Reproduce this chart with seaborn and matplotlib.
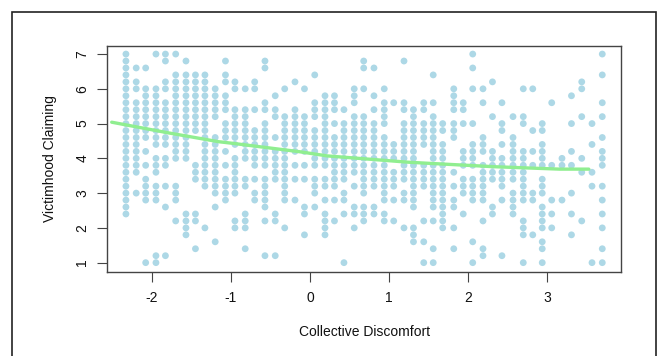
import numpy as np
import pandas as pd
import matplotlib
matplotlib.use("Agg")
import matplotlib.pyplot as plt
import matplotlib.patches as patches
import seaborn as sns

# x position of each column of dots (Collective Discomfort)
col_x = [-2.33, -2.20, -2.08, -1.95, -1.83, -1.70, -1.57, -1.45, -1.33, -1.20,
         -1.07, -0.95, -0.82, -0.70, -0.57, -0.44, -0.32, -0.19, -0.07, 0.06,
         0.19, 0.31, 0.43, 0.56, 0.68, 0.81, 0.94, 1.06, 1.19, 1.31,
         1.44, 1.56, 1.68, 1.82, 1.94, 2.06, 2.19, 2.31, 2.43, 2.57,
         2.70, 2.82, 2.94, 3.06, 3.19, 3.31, 3.44, 3.57, 3.70]

# Victimhood Claiming values found in each column
col_y = [
    [7.0, 6.8, 6.6, 6.4, 6.2, 6.0, 5.8, 5.6, 5.4, 5.2, 5.0, 4.8, 4.6, 4.4, 4.2, 4.0, 3.8, 3.6, 3.4, 3.2, 3.0, 2.8, 2.6, 2.4],
    [6.6, 6.2, 6.0, 5.6, 5.4, 5.2, 5.0, 4.8, 4.6, 4.4, 4.2, 4.0, 3.8, 3.6, 3.0],
    [6.6, 6.0, 5.8, 5.6, 5.4, 5.2, 5.0, 4.8, 4.6, 4.2, 3.8, 3.4, 3.2, 3.0, 2.8, 1.0],
    [7.0, 6.0, 5.8, 5.6, 5.4, 5.2, 5.0, 4.8, 4.6, 4.4, 4.0, 3.8, 3.6, 3.2, 3.0, 2.8, 1.2, 1.0],
    [7.0, 6.8, 6.2, 6.0, 5.6, 5.4, 5.2, 5.0, 4.8, 4.6, 4.4, 4.0, 3.8, 3.2, 2.6, 1.2],
    [7.0, 6.4, 6.2, 6.0, 5.8, 5.6, 5.4, 5.2, 5.0, 4.8, 4.6, 4.4, 4.2, 4.0, 3.2, 3.0, 2.8, 2.2],
    [6.8, 6.4, 6.2, 6.0, 5.8, 5.6, 5.4, 5.2, 5.0, 4.8, 4.6, 4.4, 4.2, 4.0, 2.4, 2.2, 2.0, 1.8],
    [6.4, 6.2, 6.0, 5.8, 5.6, 5.4, 5.2, 5.0, 4.8, 3.8, 3.6, 3.4, 2.4, 2.2, 1.4],
    [6.4, 6.2, 6.0, 5.8, 5.6, 5.4, 5.2, 5.0, 4.8, 4.6, 4.4, 4.2, 4.0, 3.8, 3.6, 3.4, 3.2, 2.0],
    [6.0, 5.8, 5.6, 5.4, 5.2, 4.6, 4.4, 4.2, 4.0, 3.8, 3.6, 3.4, 3.2, 3.0, 2.6, 1.6],
    [6.8, 6.4, 6.2, 5.8, 5.6, 5.4, 5.0, 4.8, 4.6, 4.2, 3.8, 3.4, 3.2, 3.0, 2.8],
    [6.2, 6.0, 5.4, 5.2, 5.0, 4.8, 4.6, 4.4, 4.0, 3.8, 3.6, 3.4, 3.2, 3.0, 2.2, 2.0],
    [6.0, 5.4, 5.2, 5.0, 4.8, 4.6, 4.4, 4.2, 4.0, 3.4, 3.2, 2.4, 2.2, 2.0, 1.4],
    [6.2, 6.0, 5.4, 4.8, 4.6, 4.4, 4.2, 4.0, 3.8, 3.4, 3.0, 2.8],
    [6.8, 6.6, 5.6, 5.4, 5.0, 4.8, 4.6, 4.4, 4.2, 4.0, 3.8, 3.4, 3.2, 3.0, 2.8, 2.6, 2.2, 1.2],
    [5.8, 5.4, 5.2, 4.6, 4.2, 4.0, 3.8, 3.6, 3.4, 2.4, 2.2, 1.2],
    [6.0, 5.2, 5.0, 4.8, 4.6, 4.4, 4.2, 4.0, 3.8, 3.6, 3.4, 3.2, 3.0, 2.8, 2.0],
    [6.2, 5.4, 5.2, 5.0, 4.8, 4.6, 4.4, 4.2, 3.8, 3.4, 2.8],
    [6.0, 5.2, 5.0, 4.8, 4.6, 4.4, 4.2, 3.8, 3.4, 2.6, 2.4, 1.8],
    [6.4, 5.6, 5.4, 5.2, 4.8, 4.6, 4.4, 4.2, 4.0, 3.8, 3.4, 3.2, 3.0, 2.6],
    [5.8, 5.6, 5.4, 5.2, 5.0, 4.8, 4.6, 4.4, 4.2, 4.0, 3.8, 3.4, 3.2, 2.8, 2.4, 2.2, 2.0, 1.8],
    [5.8, 5.6, 5.4, 5.0, 4.6, 4.4, 4.2, 4.0, 3.8, 3.6, 3.4, 3.2, 2.8, 2.2],
    [5.4, 5.0, 4.8, 4.6, 4.4, 4.2, 4.0, 3.8, 3.6, 3.4, 3.0, 2.8, 2.4, 1.0],
    [6.0, 5.8, 5.6, 5.2, 5.0, 4.8, 4.6, 4.4, 4.2, 4.0, 3.8, 3.6, 3.2, 2.6, 2.4, 2.0],
    [6.8, 6.6, 6.0, 5.2, 5.0, 4.8, 4.6, 4.4, 4.2, 4.0, 3.8, 3.6, 3.4, 3.2, 3.0, 2.6, 2.4, 2.2],
    [6.6, 5.8, 5.4, 5.0, 4.8, 4.6, 4.4, 4.2, 4.0, 3.8, 3.6, 3.4, 3.2, 2.6, 2.4],
    [6.0, 5.6, 5.4, 5.2, 5.0, 4.6, 4.4, 4.2, 4.0, 3.8, 3.6, 3.4, 3.2, 3.0, 2.8, 2.4, 2.2],
    [5.6, 4.4, 4.2, 4.0, 3.6, 3.4, 3.2, 2.8, 2.2],
    [6.8, 5.6, 5.4, 5.0, 4.8, 4.6, 4.4, 4.2, 4.0, 3.8, 3.6, 3.4, 3.0, 2.8, 2.0],
    [5.4, 5.2, 5.0, 4.8, 4.6, 4.4, 4.2, 4.0, 3.8, 3.6, 3.4, 3.2, 3.0, 2.8, 2.6, 2.0, 1.8, 1.6],
    [5.6, 5.4, 5.0, 4.8, 4.6, 4.4, 3.8, 3.6, 3.4, 3.2, 2.2, 1.6, 1.0],
    [6.4, 5.6, 5.2, 5.0, 4.8, 4.6, 4.4, 4.2, 4.0, 3.8, 3.6, 3.4, 3.2, 3.0, 2.8, 2.6, 2.2, 1.4, 1.0],
    [5.0, 4.8, 4.4, 4.2, 4.0, 3.8, 3.6, 3.4, 3.2, 3.0, 2.8, 2.6, 2.4, 2.2, 2.0],
    [6.0, 5.8, 5.6, 5.4, 5.0, 4.8, 4.6, 3.6, 3.2, 2.8, 2.6, 2.0, 1.4],
    [5.6, 5.4, 5.0, 4.2, 4.0, 3.8, 3.4, 3.2, 3.0, 2.4],
    [7.0, 6.6, 6.0, 5.0, 4.4, 4.2, 4.0, 3.8, 3.4, 3.2, 3.0, 2.8, 1.6, 1.0],
    [6.0, 5.6, 4.6, 4.4, 4.2, 3.8, 3.6, 3.4, 3.2, 3.0, 2.8, 2.2, 1.4, 1.2],
    [6.2, 5.2, 4.2, 4.0, 3.8, 3.6, 3.4, 2.6, 2.4],
    [5.6, 5.0, 4.8, 4.4, 4.0, 3.8, 3.6, 3.4, 3.2, 2.8, 1.2],
    [5.2, 4.6, 4.4, 4.2, 4.0, 3.8, 3.6, 3.4, 3.0, 2.8, 2.6, 2.4],
    [6.0, 5.2, 5.0, 4.2, 4.0, 3.8, 3.6, 3.4, 3.2, 3.0, 2.8, 2.2, 2.0, 1.8, 1.0],
    [6.0, 4.8, 4.2, 3.8, 3.0, 2.8, 1.8],
    [5.0, 4.8, 4.4, 4.2, 4.0, 3.8, 3.4, 3.2, 3.0, 2.6, 2.4, 2.2, 2.0, 1.6, 1.4, 1.0],
    [5.6, 3.8, 2.8, 2.4, 2.0],
    [4.0, 3.8, 2.8],
    [5.8, 5.0, 4.2, 3.8, 3.0, 2.4, 1.8],
    [6.2, 6.0, 5.2, 4.0, 3.6, 2.2],
    [5.0, 4.4, 3.6, 3.2, 1.0],
    [7.0, 6.4, 5.6, 5.2, 4.6, 4.2, 4.0, 3.8, 3.2, 2.8, 2.4, 2.0, 1.4, 1.0],
]

# smoothed trend line
trend_x = [-2.51, -1.81, -1.16, -0.97, -0.13, 0.22, 1.24, 1.48, 2.33, 3.16, 3.53]
trend_y = [5.04, 4.74, 4.48, 4.43, 4.19, 4.07, 3.89, 3.86, 3.76, 3.69, 3.69]

rows = []
for x, ys in zip(col_x, col_y):
    for y in ys:
        rows.append((x, y))
df = pd.DataFrame(rows, columns=["Collective Discomfort", "Victimhood Claiming"])
trend = pd.DataFrame({"x": trend_x, "y": trend_y})

sns.set_style("white")
plt.rcParams["font.family"] = ["Liberation Sans", "DejaVu Sans"]
plt.rcParams["axes.unicode_minus"] = False

fig = plt.figure(figsize=(6.57, 3.56), dpi=100)
ax = fig.add_axes([0.1633, 0.2368, 0.7819, 0.6348])

sns.scatterplot(data=df, x="Collective Discomfort", y="Victimhood Claiming", ax=ax,
                color="#add8e6", s=24, linewidth=0, edgecolor="none", zorder=2)
sns.lineplot(data=trend, x="x", y="y", ax=ax, color="#90ee90", linewidth=2.4,
             sort=True, estimator=None, zorder=3)

ax.set_xlim(-2.566, 3.937)
ax.set_ylim(0.74, 7.24)
ax.set_xticks([-2, -1, 0, 1, 2, 3])
ax.set_yticks([1, 2, 3, 4, 5, 6, 7])
ax.tick_params(axis="both", direction="out", length=7, width=0.8, color="#444444",
               labelsize=10, labelcolor="#111111", bottom=True, left=True)
ax.tick_params(axis="x", pad=7)
ax.tick_params(axis="y", pad=6)
for lab in ax.get_yticklabels():
    lab.set_rotation(90)
    lab.set_va("center")

for sp in ax.spines.values():
    sp.set_color("#444444")
    sp.set_linewidth(1.0)

ax.set_xlabel("Collective Discomfort", fontsize=10, color="#111111", labelpad=14)
ax.set_ylabel("Victimhood Claiming", fontsize=10, color="#111111", labelpad=13)

# outer frame around the figure (bottom edge falls outside the image)
frame = patches.Rectangle((12 / 657, -0.2), 644 / 657, 1.2 - 12 / 356,
                          transform=fig.transFigure, fill=False,
                          edgecolor="#222222", linewidth=1.2, clip_on=False)
fig.patches.append(frame)

fig.savefig("out.png", dpi=100)
